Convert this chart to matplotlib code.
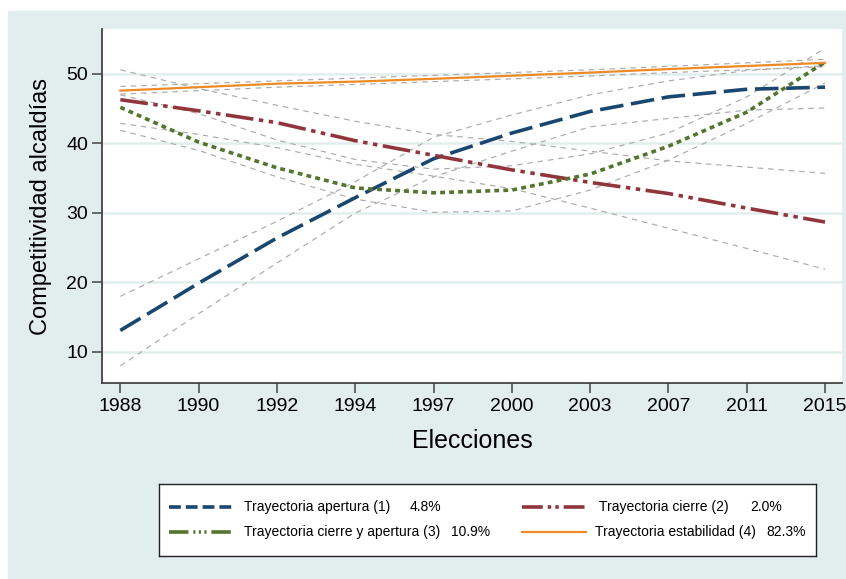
import numpy as np
import matplotlib
matplotlib.use("Agg")
import matplotlib.pyplot as plt
from matplotlib.patches import Rectangle
from matplotlib.lines import Line2D

plt.rcParams["font.family"] = ["Liberation Sans", "DejaVu Sans"]
plt.rcParams["lines.scale_dashes"] = False

# Election years (categorical axis)
years = ["1988", "1990", "1992", "1994", "1997", "2000", "2003", "2007", "2011", "2015"]

# Fitted trajectories of municipal competitiveness
apertura = [13.1, 19.9, 26.4, 32.2, 37.8, 41.5, 44.6, 46.7, 47.8, 48.1]
apertura_hi = [18.0, 23.4, 28.8, 34.5, 40.9, 44.1, 47.0, 49.0, 50.5, 51.2]
apertura_lo = [8.0, 15.5, 22.8, 30.0, 35.2, 38.9, 42.4, 43.6, 44.8, 45.1]

cierre = [46.3, 44.7, 43.0, 40.4, 38.3, 36.2, 34.4, 32.8, 30.7, 28.7]
cierre_hi = [50.6, 47.9, 45.5, 43.2, 41.3, 40.3, 38.9, 37.5, 36.6, 35.7]
cierre_lo = [42.9, 41.3, 39.4, 37.0, 35.3, 33.5, 30.7, 27.8, 24.9, 21.9]

cierre_apertura = [45.2, 40.2, 36.5, 33.6, 32.9, 33.3, 35.6, 39.6, 44.5, 51.7]
cierre_apertura_hi = [47.0, 44.3, 40.5, 37.7, 36.3, 36.8, 38.5, 41.5, 46.7, 53.7]
cierre_apertura_lo = [41.9, 39.0, 35.2, 32.0, 30.1, 30.3, 33.3, 37.6, 42.9, 48.7]

estabilidad = [47.6, 48.1, 48.6, 48.9, 49.3, 49.75, 50.2, 50.7, 51.15, 51.6]
estabilidad_hi = [48.2, 48.6, 49.0, 49.4, 49.8, 50.2, 50.6, 51.1, 51.6, 52.1]
estabilidad_lo = [47.1, 47.6, 48.1, 48.5, 48.9, 49.3, 49.7, 50.2, 50.6, 51.05]

labels = ["Trayectoria apertura (1)", "Trayectoria cierre (2)",
          "Trayectoria cierre y apertura (3)", "Trayectoria estabilidad (4)"]
shares = ["4.8%", "2.0%", "10.9%", "82.3%"]

bg = "#e2eded"
navy = "#1a476f"
maroon = "#90353b"
green = "#55752f"
orange = "#ee8a25"
ci_gray = "#ababab"

colors = [navy, maroon, green, orange]
widths = [2.6, 2.6, 2.6, 1.6]
# dash patterns along the curves and in the (shorter) legend keys
plot_dashes = [(17, 5.5), (20, 4, 3.2, 4, 3.2, 4), (3.5, 3.0), None]
key_dashes = [(8.5, 3.6), (15, 3.5, 2.5, 3, 2.5, 3.5),
              (14, 3.5, 1.5, 2.5, 1.5, 2.5, 1.5, 3.5), None]

fig = plt.figure(figsize=(8.46, 5.79), dpi=100, facecolor="white")
fig.add_artist(Rectangle((8 / 846, 0), 1, (579 - 11) / 579,
                         transform=fig.transFigure, color=bg, zorder=-5))

ax = fig.add_axes([102 / 846, 196 / 579, 740 / 846, 354 / 579])
ax.set_facecolor("white")
x = np.arange(len(years))

for hi, lo in [(apertura_hi, apertura_lo), (cierre_hi, cierre_lo),
               (cierre_apertura_hi, cierre_apertura_lo),
               (estabilidad_hi, estabilidad_lo)]:
    for s in (hi, lo):
        ax.plot(x, s, color=ci_gray, lw=0.85, dashes=(4, 3.5),
                dash_capstyle="butt", zorder=2)

for series, c, w, d in zip([apertura, cierre, cierre_apertura, estabilidad],
                           colors, widths, plot_dashes):
    line, = ax.plot(x, series, color=c, lw=w, dash_capstyle="butt", zorder=3)
    if d is not None:
        line.set_dashes(d)

ax.set_xlim(-0.234, 9.217)
ax.set_ylim(5.54, 56.47)
ax.set_xticks(x)
ax.set_xticklabels(years)
ax.set_yticks([10, 20, 30, 40, 50])
ax.yaxis.grid(True, color=bg, lw=1.8)
ax.set_axisbelow(True)
for side in ("top", "right"):
    ax.spines[side].set_visible(False)
for side in ("left", "bottom"):
    ax.spines[side].set_color("#444444")
    ax.spines[side].set_linewidth(1.3)
ax.tick_params(direction="out", length=7, width=1.1, color="#444444",
               labelsize=14, pad=4)
ax.tick_params(axis="y", pad=3)
ax.set_xlabel("Elecciones", fontsize=18, labelpad=10)
ax.set_ylabel("Competitividad alcaldías", fontsize=17, labelpad=10)

# Legend box drawn in its own pixel-based axes
lax = fig.add_axes([159 / 846, (579 - 556) / 579, 657 / 846, 72 / 579])
lax.set_xlim(0, 657)
lax.set_ylim(72, 0)
lax.set_xticks([])
lax.set_yticks([])
for sp in lax.spines.values():
    sp.set_color("#222222")
    sp.set_linewidth(1.0)

entries = [
    (10, 73, 23, 85, 251),
    (363, 427, 23, 440, 591),
    (10, 73, 48, 85, 292),
    (363, 427, 48, 436, 607),
]
for (x0, x1, yy, tx, px), c, w, d, lab, sh in zip(entries, colors, widths,
                                                   key_dashes, labels, shares):
    key = Line2D([x0, x1], [yy, yy], color=c, lw=w, dash_capstyle="butt")
    if d is not None:
        key.set_dashes(d)
    lax.add_line(key)
    lax.text(tx, yy, lab, fontsize=10, va="center", ha="left")
    lax.text(px, yy, sh, fontsize=10, va="center", ha="left")

fig.savefig("out.png", dpi=100, facecolor=fig.get_facecolor())
